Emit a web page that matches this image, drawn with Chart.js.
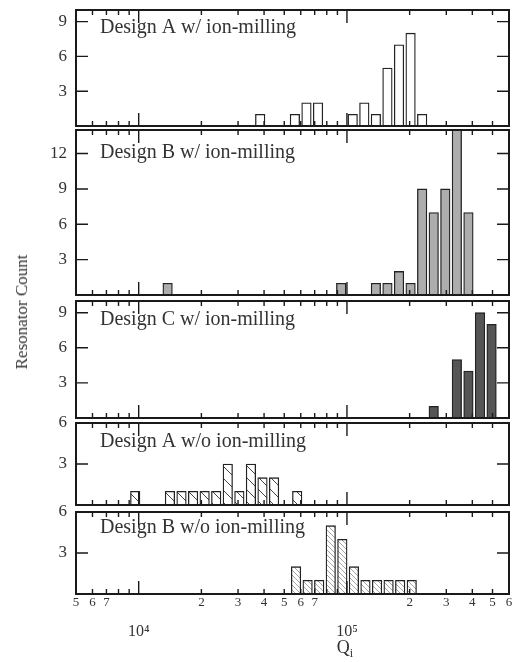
<!DOCTYPE html>
<html>
<head>
<meta charset="utf-8">
<script src="https://cdn.jsdelivr.net/npm/chart.js@4.4.1/dist/chart.umd.min.js"></script>
<style>
  body { margin: 0; background: #fff; }
  #wrap { position: relative; width: 514px; height: 662px; font-family: "Liberation Serif", serif; color: #333; }
  #wrap canvas { position: absolute; left: 0; }
  #ytitle { position: absolute; left: 22px; top: 312px; transform: translate(-50%, -50%) rotate(-90deg); font-size: 17px; white-space: nowrap; }
  #xtitle { position: absolute; left: 345px; top: 649px; transform: translate(-50%, -50%); font-size: 18px; }
  #xtitle sub { font-size: 12px; }
</style>
</head>
<body>
<div id="wrap">
  <canvas id="p1"></canvas>
  <canvas id="p2"></canvas>
  <canvas id="p3"></canvas>
  <canvas id="p4"></canvas>
  <canvas id="p5"></canvas>
  <div id="ytitle">Resonator Count</div>
  <div id="xtitle">Q<sub>i</sub></div>
</div>
<script>
// histogram bins are 1/18 of a decade wide; firstBin = log10(Q) of the first left edge, in bin units
var binsPerDecade = 18;

var panelLabels = ['Design A w/ ion-milling', 'Design B w/ ion-milling', 'Design C w/ ion-milling',
                   'Design A w/o ion-milling', 'Design B w/o ion-milling'];

var firstBinA = 82;
var countsA = [1, 0, 0, 1, 2, 2, 0, 0, 1, 2, 1, 5, 7, 8, 1];

var firstBinB = 74;
var countsB = [1, 0, 0, 0, 0, 0, 0, 0, 0, 0, 0, 0, 0, 0, 0, 1, 0, 0, 1, 1, 2, 1, 9, 7, 9, 14, 7];

var firstBinC = 97;
var countsC = [1, 0, 5, 4, 9, 8];

var firstBinANoMill = 71.2;
var countsANoMill = [1, 0, 0, 1, 1, 1, 1, 1, 3, 1, 3, 2, 2, 0, 1];

var firstBinBNoMill = 85.1;
var countsBNoMill = [2, 1, 1, 5, 4, 2, 1, 1, 1, 1, 1];

// y ranges and labelled ticks of each panel
var yMax = [10, 14, 10, 6, 6];
var yTicks = [[3, 6, 9], [3, 6, 9, 12], [3, 6, 9], [3, 6], [3, 6]];

// log axis ticks (Q values) and what is printed under them
var xMin = 5000, xMax = 600000;
var xTickValues = [5e3, 6e3, 7e3, 8e3, 9e3, 1e4, 2e4, 3e4, 4e4, 5e4, 6e4, 7e4, 8e4, 9e4,
                   1e5, 2e5, 3e5, 4e5, 5e5, 6e5];
var xTickLabels = ['5', '6', '7', '', '', ['', '10\u2074'], '2', '3', '4', '5', '6', '7', '', '',
                   ['', '10\u2075'], '2', '3', '4', '5', '6'];

function isDecade(v) {
  var l = Math.log10(v);
  return Math.abs(l - Math.round(l)) < 1e-9;
}

function histPoints(firstBin, counts) {
  return counts.map(function(c, i) {
    return { x: (firstBin + i + 0.5) / binsPerDecade, y: c };
  });
}

function hatch(size, color, width) {
  var c = document.createElement('canvas');
  c.width = c.height = size;
  var g = c.getContext('2d');
  g.fillStyle = '#fff';
  g.fillRect(0, 0, size, size);
  g.strokeStyle = color;
  g.lineWidth = width;
  g.beginPath();
  g.moveTo(0, 0); g.lineTo(size, size);
  g.moveTo(-1, size - 1); g.lineTo(1, size + 1);
  g.moveTo(size - 1, -1); g.lineTo(size + 1, 1);
  g.stroke();
  return g.createPattern(c, 'repeat');
}

// frame, inward ticks on all four sides and the panel caption
var frameTicks = {
  id: 'frameTicks',
  afterDatasetsDraw: function(chart, args, opts) {
    var ctx = chart.ctx, a = chart.chartArea;
    var xs = chart.scales.x, ys = chart.scales.y;
    ctx.save();
    ctx.strokeStyle = '#1a1a1a';
    ctx.lineWidth = 1.4;
    ctx.beginPath();
    xTickValues.forEach(function(v) {
      var px = xs.getPixelForValue(Math.log10(v));
      var len = isDecade(v) ? 13 : 5;
      ctx.moveTo(px, a.top); ctx.lineTo(px, a.top + len);
      ctx.moveTo(px, a.bottom); ctx.lineTo(px, a.bottom - len);
    });
    opts.ticks.forEach(function(v) {
      var py = ys.getPixelForValue(v);
      ctx.moveTo(a.left, py); ctx.lineTo(a.left + 12, py);
      ctx.moveTo(a.right, py); ctx.lineTo(a.right - 12, py);
    });
    ctx.stroke();
    ctx.lineWidth = 2;
    ctx.strokeRect(a.left, a.top, a.right - a.left, a.bottom - a.top);
    ctx.fillStyle = '#333';
    ctx.font = '20px "Liberation Serif"';
    ctx.textBaseline = 'middle';
    ctx.fillText(opts.label, a.left + 24, a.top + opts.labelDy);
    ctx.restore();
  }
};

var panels = [
  { id: 'p1', top: 10,  bottom: 126, first: firstBinA,       counts: countsA,       fill: '#ffffff', labelDy: 18 },
  { id: 'p2', top: 130, bottom: 295, first: firstBinB,       counts: countsB,       fill: '#adadad', labelDy: 23 },
  { id: 'p3', top: 301, bottom: 418, first: firstBinC,       counts: countsC,       fill: '#555555', labelDy: 19 },
  { id: 'p4', top: 423, bottom: 505, first: firstBinANoMill, counts: countsANoMill, fill: hatch(12, '#444', 1), labelDy: 19 },
  { id: 'p5', top: 512, bottom: 594, first: firstBinBNoMill, counts: countsBNoMill, fill: hatch(5, '#9a9a9a', 0.9), labelDy: 16 }
];

// room above/below each plot area; the y axis asks for about 20px for its end labels
var edge = 24;

panels.forEach(function(p, i) {
  var last = i === panels.length - 1;
  var canvasTop = p.top - edge;
  var canvasBottom = last ? 662 : p.bottom + edge;
  var canvas = document.getElementById(p.id);
  canvas.width = 514;
  canvas.height = canvasBottom - canvasTop;
  canvas.style.top = canvasTop + 'px';

  new Chart(canvas, {
    type: 'bar',
    data: {
      datasets: [{
        data: histPoints(p.first, p.counts),
        backgroundColor: p.fill,
        borderColor: '#222',
        borderWidth: 1.3,
        borderSkipped: false,
        barPercentage: 1,
        categoryPercentage: 1
      }]
    },
    options: {
      responsive: false,
      devicePixelRatio: 1,
      animation: false,
      layout: { autoPadding: false, padding: { top: edge, right: 5, bottom: last ? 0 : edge, left: 0 } },
      plugins: {
        legend: { display: false },
        tooltip: { enabled: false },
        frameTicks: { label: panelLabels[i], ticks: yTicks[i], labelDy: p.labelDy }
      },
      scales: {
        x: {
          type: 'linear',
          display: last,
          offset: false,
          min: Math.log10(xMin),
          max: Math.log10(xMax),
          grid: { display: false, drawTicks: false },
          border: { display: false },
          afterBuildTicks: function(s) {
            s.ticks = xTickValues.map(function(v) { return { value: Math.log10(v) }; });
          },
          afterFit: function(s) { if (last) s.height = 68; },
          ticks: {
            autoSkip: false,
            maxRotation: 0,
            padding: 1,
            color: '#333',
            callback: function(value, index) { return xTickLabels[index]; },
            font: function(c) {
              if (isDecade(xTickValues[c.index])) {
                return { family: 'Liberation Serif', size: 16, lineHeight: 1.55 };
              }
              return { family: 'Liberation Serif', size: 13 };
            }
          }
        },
        y: {
          min: 0,
          max: yMax[i],
          grid: { display: false, drawTicks: false },
          border: { display: false },
          afterBuildTicks: function(s) {
            s.ticks = yTicks[i].map(function(v) { return { value: v }; });
          },
          afterFit: function(s) { s.width = 76; },
          ticks: {
            padding: 9,
            color: '#333',
            font: { family: 'Liberation Serif', size: 17 }
          }
        }
      }
    },
    plugins: [frameTicks]
  });
});
</script>
</body>
</html>
